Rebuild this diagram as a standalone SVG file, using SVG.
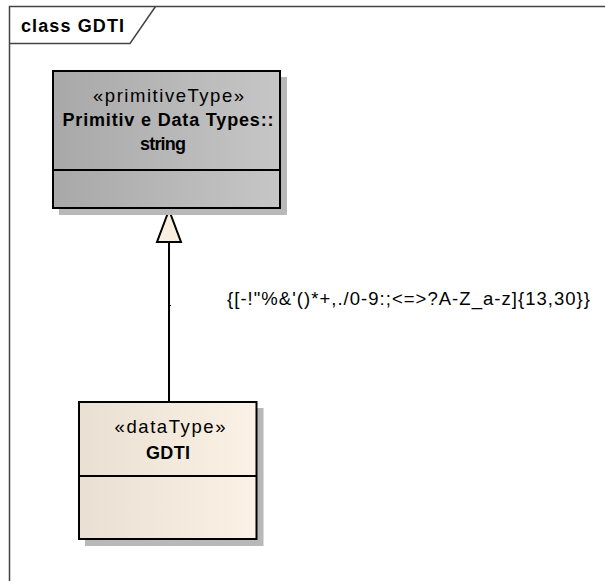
<svg xmlns="http://www.w3.org/2000/svg" width="605" height="581" viewBox="0 0 605 581">
<style>
text{font-family:"Liberation Sans",Arial,sans-serif;fill:#000}
.n{font-size:18.5px}
.b{font-size:18px;font-weight:bold}
.box{stroke:#000;stroke-width:2}
.shadow{fill:#b8b8b8}
.frame{fill:none;stroke:#444;stroke-width:1.5}
</style>
<defs>
<linearGradient id="gGray" x1="0" y1="0" x2="1" y2="0">
<stop offset="0" stop-color="#a8a8a8"/>
<stop offset="1" stop-color="#c6c6c6"/>
</linearGradient>
<linearGradient id="gCream" x1="0" y1="0" x2="1" y2="0">
<stop offset="0" stop-color="#e9e0d3"/>
<stop offset="1" stop-color="#fbf1e4"/>
</linearGradient>
</defs>
<rect width="605" height="581" fill="#fff"/>
<g id="frame">
<path class="frame" d="M9.5,581 V6.5 H605"/>
<path class="frame" d="M9.5,43.5 H130 L155.5,6.5"/>
<text class="b" x="21" y="31.5" textLength="103" lengthAdjust="spacing">class GDTI</text>
</g>
<g id="connectors">
<line x1="169" y1="242" x2="169" y2="402" stroke="#000" stroke-width="2"/>
<line x1="169" y1="305.5" x2="171" y2="305.5" stroke="#000" stroke-width="1"/>
<polygon points="169,210 157,242 181,242" fill="#f8efe0" stroke="#000" stroke-width="2" stroke-linejoin="miter"/>
<text class="n" x="227" y="305" textLength="363" lengthAdjust="spacing">{[-!"%&amp;'()*+,./0-9:;&lt;=&gt;?A-Z_a-z]{13,30}}</text>
</g>
<g id="string">
<rect class="shadow" x="59" y="77" width="228" height="138"/>
<rect class="box" x="53" y="71" width="227" height="137" fill="url(#gGray)"/>
<line x1="53" y1="170" x2="280" y2="170" stroke="#000" stroke-width="2"/>
<text class="n" x="93" y="101.5" textLength="151" lengthAdjust="spacing">«primitiveType»</text>
<text class="b" x="62.5" y="126" textLength="211" lengthAdjust="spacing">Primitiv e Data Types::</text>
<text class="b" x="140" y="149.5" textLength="46" lengthAdjust="spacing">string</text>
</g>
<g id="GDTI">
<rect class="shadow" x="85" y="408" width="178.5" height="138"/>
<rect class="box" x="79" y="402" width="177.5" height="137" fill="url(#gCream)"/>
<line x1="79" y1="476" x2="256.5" y2="476" stroke="#000" stroke-width="2"/>
<text class="n" x="114.5" y="432.5" textLength="111" lengthAdjust="spacing">«dataType»</text>
<text class="b" x="146" y="459" textLength="44" lengthAdjust="spacing">GDTI</text>
</g>
</svg>
